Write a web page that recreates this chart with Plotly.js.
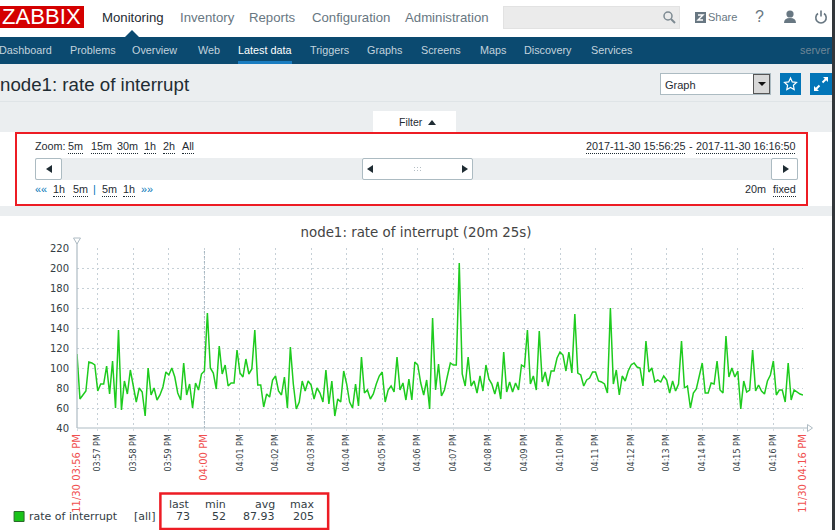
<!DOCTYPE html>
<html><head><meta charset="utf-8">
<script src="https://cdn.plot.ly/plotly-3.0.1.min.js"></script>
<style>
html,body{margin:0;padding:0;background:#fff;overflow:hidden}
body{width:835px;height:530px;position:relative;font-family:"Liberation Sans",Arial,sans-serif}
.a{position:absolute;white-space:nowrap}
.u{border-bottom:1px dotted #1f2c33;padding-bottom:0}
.nav{top:9.5px;font-size:13.2px;color:#687782;line-height:16px}
.sub{top:44px;font-size:10.8px;color:#c3d3dd;line-height:13px}
.bar{font-size:10.8px;color:#1f2c33;line-height:13px}
.btn{background:#fff;border:1px solid #acbbc2;box-sizing:border-box;border-radius:2px}
.tri{position:absolute;width:0;height:0;border-top:4px solid transparent;border-bottom:4px solid transparent}
.l{border-right:6px solid #1f2c33}.r{border-left:6px solid #1f2c33}
#chart{position:absolute;left:0;top:0;width:835px;height:530px}
</style></head><body>
<div class="a" style="left:0;top:64px;width:835px;height:152px;background:#ebeef0"></div>
<div class="a" style="left:0;top:37px;width:835px;height:27px;background:#0b4a70"></div>
<div class="a" style="left:0;top:6px;width:84px;height:22px;background:#d40000"></div>
<div class="a" style="left:2px;top:4px;font-size:22px;line-height:26px;color:#fff;letter-spacing:0.1px">ZABBIX</div>
<div class="a" style="left:125px;top:30px;width:0;height:0;border-left:7px solid transparent;border-right:7px solid transparent;border-bottom:7px solid #0b4a70"></div>
<div class="a nav" style="left:102px;color:#1f2c33">Monitoring</div>
<div class="a nav" style="left:180px">Inventory</div>
<div class="a nav" style="left:249px">Reports</div>
<div class="a nav" style="left:312px">Configuration</div>
<div class="a nav" style="left:405px">Administration</div>
<div class="a" style="left:503px;top:6px;width:177px;height:23px;background:#ebebeb;border:1px solid #e2e2e2;box-sizing:border-box"></div>
<svg class="a" style="left:660px;top:8px" width="175" height="20" viewBox="660 8 175 20">
<circle cx="668" cy="16" r="4" fill="none" stroke="#7d8a92" stroke-width="1.5"/><path d="M671 19l4 4" stroke="#7d8a92" stroke-width="2"/>
<rect x="695" y="12" width="11" height="11" fill="#687782"/><path d="M698 15h5l-5 5h5" stroke="#fff" fill="none" stroke-width="1.4"/>
<circle cx="790" cy="14" r="3.6" fill="#687782"/><path d="M784 23q0-5 6-5t6 5z" fill="#687782"/>
<path d="M818 13.5a5.2 5.2 0 1 0 6 0M821 10.5v6" fill="none" stroke="#687782" stroke-width="1.6"/>
</svg>
<div class="a" style="left:708px;top:11px;font-size:11px;line-height:13px;color:#687782">Share</div>
<div class="a" style="left:755px;top:8px;font-size:16px;line-height:18px;color:#687782">?</div>

<div class="a sub" style="left:-1px">Dashboard</div>
<div class="a sub" style="left:70px">Problems</div>
<div class="a sub" style="left:132px">Overview</div>
<div class="a sub" style="left:198px">Web</div>
<div class="a sub" style="left:238px;color:#fff">Latest data</div>
<div class="a" style="left:238px;top:61px;width:54px;height:3px;background:#1a7cc0"></div>
<div class="a sub" style="left:310px">Triggers</div>
<div class="a sub" style="left:367px">Graphs</div>
<div class="a sub" style="left:421px">Screens</div>
<div class="a sub" style="left:480px">Maps</div>
<div class="a sub" style="left:524px">Discovery</div>
<div class="a sub" style="left:591px">Services</div>
<div class="a sub" style="left:800px;color:#6f8796">server</div>

<div class="a" style="left:0;top:74px;font-size:18.7px;line-height:22px;color:#1f2c33">node1: rate of interrupt</div>
<div class="a" style="left:0;top:101px;width:832px;height:1px;background:#dfe4e7"></div>
<div class="a" style="left:660px;top:73px;width:111px;height:22px;background:#fff;border:1px solid #acbbc2;box-sizing:border-box"></div>
<div class="a" style="left:665px;top:78px;font-size:11px;line-height:14px;color:#1f2c33">Graph</div>
<div class="a" style="left:753px;top:74px;width:17px;height:20px;background:#d8d8d8;border:1px solid #555;box-sizing:border-box"></div>
<div class="a" style="left:758px;top:82px;width:0;height:0;border-left:4px solid transparent;border-right:4px solid transparent;border-top:4px solid #111"></div>
<div class="a" style="left:780px;top:73px;width:21px;height:22px;background:#0275b8"></div>
<div class="a" style="left:810px;top:73px;width:22px;height:22px;background:#0275b8"></div>
<svg class="a" style="left:780px;top:73px" width="52" height="22" viewBox="780 73 52 22">
<path d="M790.500 78l1.800 3.900 4.200.5-3.100 2.900.8 4.200-3.700-2.100-3.700 2.100.8-4.200-3.100-2.900 4.200-.5z" fill="none" stroke="#fff" stroke-width="1.2"/>
<path d="M823 77h5v5l-1.800-1.800-3 3-1.400-1.400 3-3zM819 91h-5v-5l1.800 1.800 3-3 1.400 1.400-3 3z" fill="#fff"/>
</svg>
<div class="a" style="left:373px;top:111px;width:83px;height:21px;background:#fff"></div>
<div class="a bar" style="left:399px;top:116px;font-size:10.500px">Filter</div>
<div class="a" style="left:428px;top:120px;width:0;height:0;border-left:4px solid transparent;border-right:4px solid transparent;border-bottom:5px solid #1f2c33"></div>

<div class="a" style="left:0;top:132px;width:835px;height:74px;background:#fff"></div>
<div class="a" style="left:15px;top:132px;width:793px;height:74px;border:2px solid #ed1c24;box-sizing:border-box"></div>
<div class="a bar" style="left:35px;top:140px">Zoom:</div>
<div class="a bar u" style="left:68px;top:140px">5m</div>
<div class="a bar u" style="left:91px;top:140px">15m</div>
<div class="a bar u" style="left:117px;top:140px">30m</div>
<div class="a bar u" style="left:144px;top:140px">1h</div>
<div class="a bar u" style="left:163px;top:140px">2h</div>
<div class="a bar u" style="left:182px;top:140px">All</div>
<div class="a bar u" style="left:586px;top:140px">2017-11-30 15:56:25</div>
<div class="a bar" style="left:689px;top:140px">-</div>
<div class="a bar u" style="left:696px;top:140px">2017-11-30 16:16:50</div>
<div class="a" style="left:35px;top:158px;width:763px;height:22px;background:#ebeef0"></div>
<div class="a btn" style="left:35px;top:158px;width:27px;height:22px"><div class="tri l" style="left:10px;top:6px"></div></div>
<div class="a btn" style="left:362px;top:158px;width:111px;height:22px"><div class="tri l" style="left:4px;top:6px"></div><div class="tri r" style="right:4px;top:6px"></div>
<div class="a" style="left:50px;top:7px;width:9px;height:6px;background-image:radial-gradient(#b5bfc5 1px,transparent 1px);background-size:3px 3px"></div></div>
<div class="a btn" style="left:771px;top:158px;width:27px;height:22px"><div class="tri r" style="left:11px;top:6px"></div></div>
<div class="a bar" style="left:35px;top:183px;color:#0275b8">««</div>
<div class="a bar u" style="left:53px;top:183px">1h</div>
<div class="a bar u" style="left:73px;top:183px">5m</div>
<div class="a bar" style="left:93px;top:183px;color:#0275b8">|</div>
<div class="a bar u" style="left:102px;top:183px">5m</div>
<div class="a bar u" style="left:123px;top:183px">1h</div>
<div class="a bar" style="left:141px;top:183px;color:#0275b8">»»</div>
<div class="a bar" style="left:745px;top:183px">20m</div>
<div class="a bar u" style="left:773px;top:183px">fixed</div>
<div id="chart"></div>
<div class="a" style="left:832px;top:0;width:3px;height:530px;background:#33373b;z-index:5"></div>
<script>
// 5-second samples beginning at sampleStart
const sampleStart = "2017-11-30 15:56:25";
const rangeEnd = "2017-11-30 16:16:50";
const interruptRate = [
114,69,73,77,106,105,103,77,84,84,
102,74,107,60,138,58,87,74,98,82,
66,80,76,52,100,73,80,68,73,81,
96,93,100,91,75,68,105,73,84,60,
85,78,94,97,155,100,95,79,122,94,
103,82,85,85,118,95,91,109,94,99,
138,83,83,61,74,71,88,92,77,73,
91,60,121,84,59,66,87,77,87,83,
69,80,75,66,98,64,87,52,69,66,
97,84,66,60,84,62,111,75,78,69,
74,84,92,96,66,78,82,76,111,78,
85,68,89,68,106,103,85,73,88,59,
150,78,104,72,78,92,105,103,103,205,
94,82,111,82,87,75,92,77,103,89,
84,74,86,69,116,76,86,76,85,78,
103,101,138,84,92,78,137,86,96,82,
97,97,110,116,113,97,116,95,154,95,
93,82,88,90,96,96,87,86,84,75,
160,84,98,73,92,87,97,103,105,101,
100,82,127,96,100,86,88,86,92,88,
75,87,77,84,127,80,82,60,75,79,
93,105,75,75,85,84,107,78,75,132,
91,100,91,97,59,87,76,78,118,77,
83,77,74,87,93,107,73,78,78,66,
105,68,78,76,74,73];
const yTicks = [40,60,80,100,120,140,160,180,200,220];
const tickTimes = ["15:56:25","15:57","15:58","15:59","16:00","16:01","16:02","16:03","16:04","16:05","16:06","16:07","16:08","16:09","16:10","16:11","16:12","16:13","16:14","16:15","16:16","16:16:50"];
const tickLabels = ["11/30 03:56 PM","03:57 PM","03:58 PM","03:59 PM","04:00 PM","04:01 PM","04:02 PM","04:03 PM","04:04 PM","04:05 PM","04:06 PM","04:07 PM","04:08 PM","04:09 PM","04:10 PM","04:11 PM","04:12 PM","04:13 PM","04:14 PM","04:15 PM","04:16 PM","11/30 04:16 PM"];
const redLabels = ["11/30 03:56 PM","04:00 PM","11/30 04:16 PM"];
const statHeads = ["last","min","avg","max"];
const statVals = ["73","52","87.93","205"];
const statRight = [192,228,277,316];

const W=835,H=530;
const RED="#f05050",TXT="#333d44",AX="#aebbc3",FONT="DejaVu Sans";
const mL=76.5,mR=W-803.5,mT=248,mB=H-428;
const pw=W-mL-mR,ph=H-mT-mB;
const X=x=>(x-mL)/pw,Y=y=>(H-mB-y)/ph;
const ticktext=tickLabels.map(t=>redLabels.includes(t)?`<span style="color:${RED};font-size:10px">${t}</span>`:t);
const ann=(t,x,y,anchor,size)=>({text:t,xref:"paper",yref:"paper",x:X(x),y:Y(y),xanchor:anchor,yanchor:"middle",showarrow:false,font:{family:FONT,size:size||11,color:TXT}});
const annotations=[ann("rate of interrupt",26,516.5,"left"),ann("[all]",157,516.5,"right")];
statHeads.forEach((s,i)=>{annotations.push(ann(s,statRight[i],504,"right"));annotations.push(ann(statVals[i],statRight[i],516.5,"right"));});
const pshape=(x0,y0,x1,y1,o)=>Object.assign({type:"rect",xref:"paper",yref:"paper",x0:X(x0),y0:Y(y0),x1:X(x1),y1:Y(y1)},o);
const shapes=[
 {type:"line",xref:"x",yref:"paper",x0:"2017-11-30 16:00",x1:"2017-11-30 16:00",y0:0,y1:1,layer:"below",line:{color:"#9fb0bb",width:1,dash:"2px,3px"}},
 pshape(13.5,511.5,23.5,521.5,{fillcolor:"#19c319",line:{color:"#2a6a2a",width:1}}),
 pshape(160,493.5,328,529,{fillcolor:"rgba(0,0,0,0)",line:{color:"#ed1c24",width:2.5}}),
 {type:"line",xref:"paper",yref:"paper",x0:0,y0:0,x1:X(808),y1:0,line:{color:AX,width:1.2}},
 {type:"line",xref:"paper",yref:"paper",x0:0,y0:0,x1:0,y1:Y(241),line:{color:AX,width:1.2}},
 {type:"path",xref:"paper",yref:"paper",xsizemode:"pixel",ysizemode:"pixel",xanchor:0,yanchor:Y(241),path:"M -3.500 3 L 3.500 3 L 0 -3 Z",fillcolor:"#fff",line:{color:AX,width:1}},
 {type:"path",xref:"paper",yref:"paper",xsizemode:"pixel",ysizemode:"pixel",xanchor:X(808),yanchor:0,path:"M 0 -3.500 L 0 3.500 L 5 0 Z",fillcolor:"#fff",line:{color:AX,width:1}}
];

Plotly.newPlot("chart",[{
  type:"scatter",mode:"lines",name:"rate of interrupt",
  x0:sampleStart,dx:5000,y:interruptRate,
  line:{color:"#1ecb1e",width:1.5},showlegend:false,hoverinfo:"skip"
}],{
  width:W,height:H,margin:{l:mL,r:mR,t:mT,b:mB,pad:0},
  paper_bgcolor:"rgba(0,0,0,0)",plot_bgcolor:"#fff",
  title:{text:"node1: rate of interrupt (20m 25s)",font:{family:FONT,size:13.4,color:"#444"},x:416/W,xanchor:"center",y:1-232/H,yanchor:"middle",xref:"container",yref:"container"},
  xaxis:{type:"date",range:[sampleStart,rangeEnd],tickmode:"array",
    tickvals:tickTimes.map(t=>"2017-11-30 "+t),ticktext:ticktext,tickangle:-90,
    tickfont:{family:FONT,size:8,color:TXT},ticks:"outside",ticklen:2,tickcolor:"#d5dde2",
    showgrid:true,gridcolor:"#c6d0d7",griddash:"2px,3px",gridwidth:1,zeroline:false,showline:false},
  yaxis:{range:[40,220],tickmode:"array",tickvals:yTicks,ticks:"outside",ticklen:5,tickcolor:"rgba(0,0,0,0)",tickfont:{family:FONT,size:10,color:TXT},
    showgrid:true,gridcolor:"#c6d0d7",griddash:"2px,3px",gridwidth:1,zeroline:false,showline:false},
  annotations:annotations,shapes:shapes,showlegend:false
},{staticPlot:true,displayModeBar:false});
</script>
<div class="a" style="left:0;top:216px;width:835px;height:314px;background:#fff;z-index:-1"></div>
</body></html>
